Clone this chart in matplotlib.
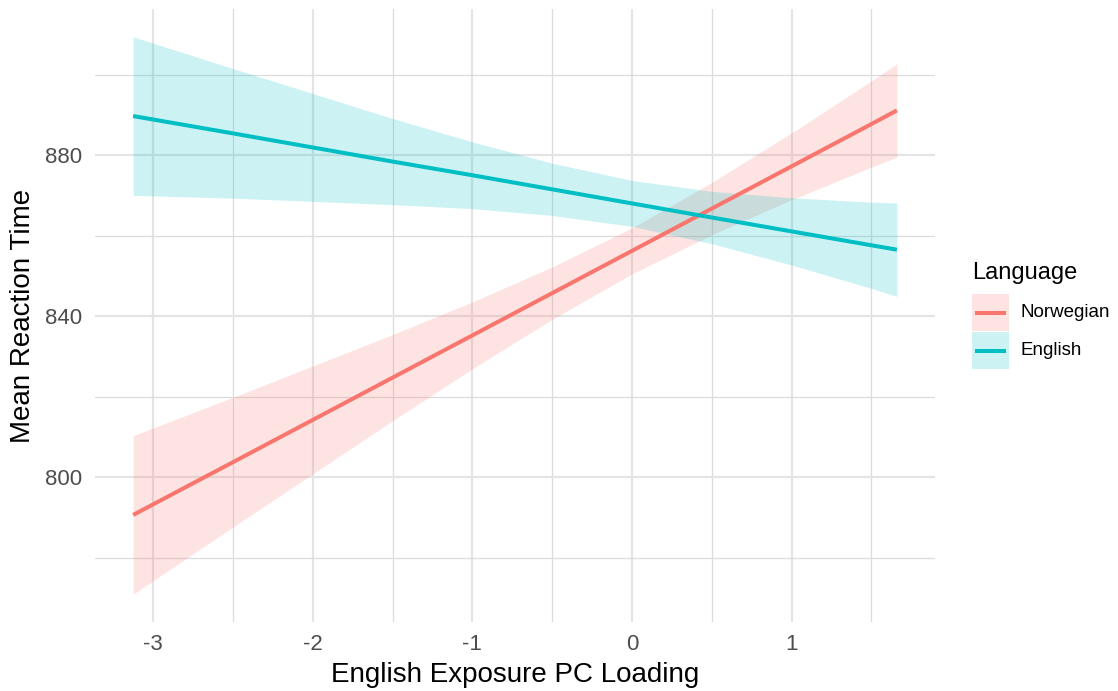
import matplotlib
matplotlib.use("Agg")
import matplotlib.pyplot as plt
from matplotlib.patches import Rectangle
from matplotlib.lines import Line2D

plt.rcParams['font.family'] = ['Liberation Sans', 'DejaVu Sans']

# Fitted values and 95% confidence bands along the exposure loading
exposure = [-3.125, -2.5, -2.0, -1.5, -1.0, -0.5, 0.0, 0.5, 1.0, 1.5, 1.66]

norwegian_fit = [790.6, 803.7, 814.2, 824.7, 835.2, 845.7, 856.2, 866.7, 877.2, 887.7, 891.1]
norwegian_lower = [770.9, 787.6, 800.8, 814.0, 826.9, 839.2, 850.5, 860.2, 868.9, 877.0, 879.5]
norwegian_upper = [810.3, 819.8, 827.6, 835.4, 843.5, 852.2, 861.9, 873.2, 885.5, 898.4, 902.7]

english_fit = [889.7, 885.4, 881.9, 878.4, 875.0, 871.5, 868.0, 864.5, 861.05, 857.6, 856.5]
english_lower = [870.0, 869.3, 868.5, 867.7, 866.7, 865.0, 862.3, 858.0, 852.7, 846.9, 844.9]
english_upper = [909.4, 901.5, 895.3, 889.1, 883.3, 878.0, 873.7, 871.0, 869.4, 868.3, 868.1]

languages = ["Norwegian", "English"]
colors = {"Norwegian": "#F8766D", "English": "#00BFC4"}

x_major = [-3, -2, -1, 0, 1]
x_minor = [-2.5, -1.5, -0.5, 0.5, 1.5]
y_major = [800, 840, 880]
y_minor = [780, 820, 860, 900]

W, H = 1118, 691
fig = plt.figure(figsize=(W / 100, H / 100), dpi=100)
ax = fig.add_axes([95 / W, 1 - 622 / H, (935 - 95) / W, (622 - 9) / H])

ax.set_xlim(-3.364, 1.899)
ax.set_ylim(764.0, 916.3)

# grid
for v in x_minor:
    ax.axvline(v, color="#DCDCDC", lw=0.9, zorder=0)
for v in x_major:
    ax.axvline(v, color="#E4E4E4", lw=1.6, zorder=0)
for v in y_minor:
    ax.axhline(v, color="#DCDCDC", lw=0.9, zorder=0)
for v in y_major:
    ax.axhline(v, color="#E4E4E4", lw=1.6, zorder=0)

series = {
    "Norwegian": (norwegian_fit, norwegian_lower, norwegian_upper),
    "English": (english_fit, english_lower, english_upper),
}
for lang in languages:
    fit, lo, hi = series[lang]
    ax.fill_between(exposure, lo, hi, color=colors[lang], alpha=0.2, lw=0, zorder=2)
for lang in languages:
    fit, lo, hi = series[lang]
    ax.plot(exposure, fit, color=colors[lang], lw=2.9, solid_capstyle="butt", zorder=3)

for s in ax.spines.values():
    s.set_visible(False)
ax.set_xticks(x_major)
ax.set_xticklabels([str(v) for v in x_major])
ax.set_yticks(y_major)
ax.set_yticklabels([str(v) for v in y_major])
ax.tick_params(length=0, labelsize=16, labelcolor="#4D4D4D", pad=9)
ax.set_xlabel("English Exposure PC Loading", fontsize=20, labelpad=5)
ax.set_ylabel("Mean Reaction Time", fontsize=20, labelpad=7)

# legend
fig.text(972 / W, 1 - 273 / H, "Language", fontsize=17, va="center", ha="left")
key_tops = [294, 332]
for lang, top in zip(languages, key_tops):
    fig.patches.append(Rectangle((972 / W, 1 - (top + 37) / H), 37 / W, 37 / H,
                                 transform=fig.transFigure, facecolor=colors[lang],
                                 alpha=0.2, lw=0))
    yc = 1 - (top + 18.5) / H
    fig.lines.append(Line2D([975 / W, 1006 / W], [yc, yc], transform=fig.transFigure,
                            color=colors[lang], lw=2.9, solid_capstyle="butt"))
    fig.text(1021 / W, yc, lang, fontsize=13.5, va="center", ha="left")

fig.savefig("out.png", dpi=100, facecolor="white")
